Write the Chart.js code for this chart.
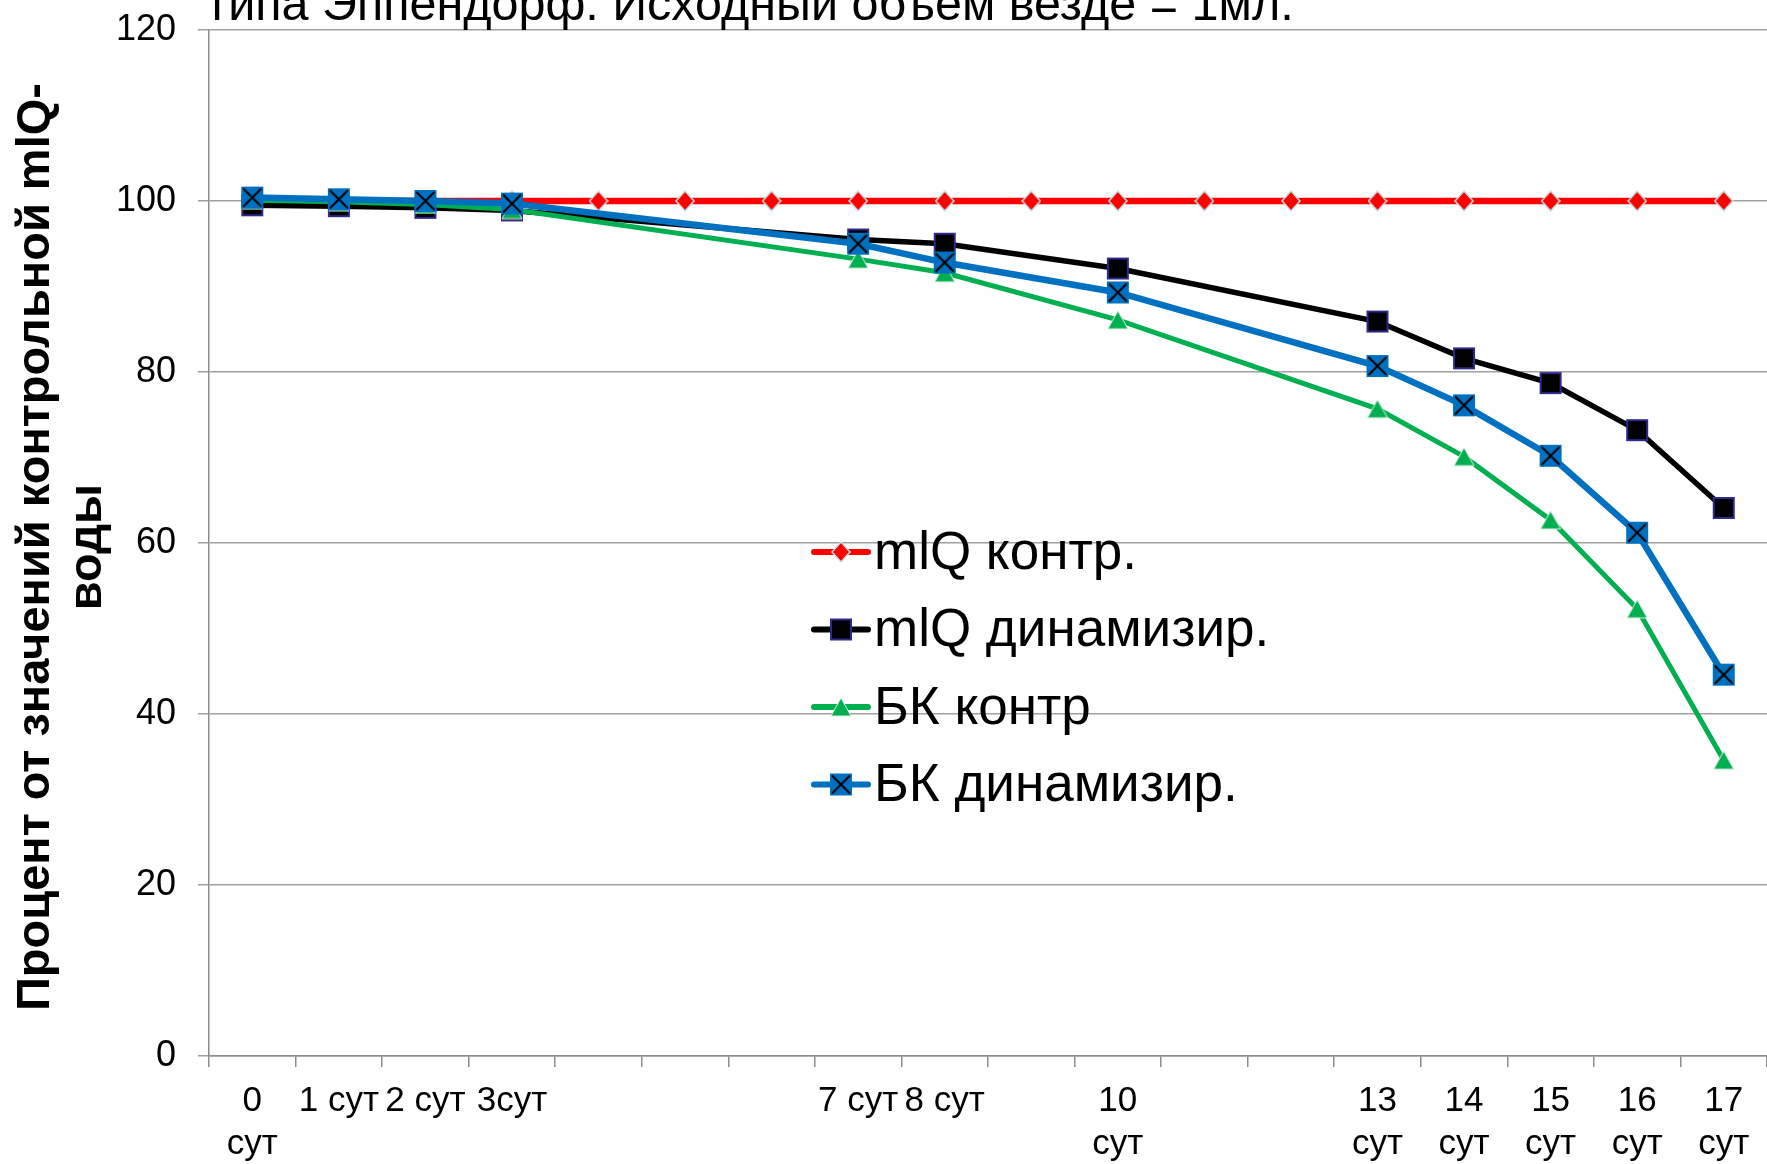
<!DOCTYPE html>
<html><head><meta charset="utf-8">
<script src="https://cdn.jsdelivr.net/npm/chart.js@4.4.1/dist/chart.umd.min.js"></script>
<style>html,body{margin:0;padding:0;background:#fff;overflow:hidden}canvas{display:block}</style>
</head><body>
<canvas id="c" width="1767" height="1164"></canvas>
<script>
const categories = [['0','сут'],'1 сут','2 сут','3сут','','','','7 сут','8 сут','',['10','сут'],'','',['13','сут'],['14','сут'],['15','сут'],['16','сут'],['17','сут']];
const mlqControl = [100,100,100,100,100,100,100,100,100,100,100,100,100,100,100,100,100,100];
const mlqDynamized = [99.5,99.4,99.2,98.9,null,null,null,95.5,95.0,null,92.1,null,null,85.9,81.6,78.7,73.2,64.1];
const bkControl = [100.1,99.9,99.6,99.0,null,null,null,93.2,91.6,null,86.1,null,null,75.7,70.1,62.7,52.3,34.6];
const bkDynamized = [100.4,100.2,100.0,99.7,null,null,null,95.0,92.8,null,89.3,null,null,80.7,76.1,70.2,61.2,44.6];
const seriesNames = ['mlQ контр.','mlQ динамизир.','БК контр','БК динамизир.'];
const yTicks = [0,20,40,60,80,100,120];
const titleText = 'типа Эппендорф. Исходный объем везде = 1мл.';
const yTitleLines = ['Процент от значений контрольной mlQ-','воды'];

const FONT = 'Arial, "Liberation Sans", sans-serif';

function mk(w,h,draw){const c=document.createElement('canvas');c.width=w;c.height=h;draw(c.getContext('2d'),w,h);return c;}
const mDiamond = mk(20,22,(g)=>{g.beginPath();g.moveTo(10,1);g.lineTo(19,11);g.lineTo(10,21);g.lineTo(1,11);g.closePath();g.fillStyle='#ff0000';g.fill();g.lineWidth=1.5;g.strokeStyle='#bfe4ea';g.stroke();});
const mSquare = mk(24,24,(g)=>{g.fillStyle='#000';g.fillRect(2,2,20,20);g.lineWidth=2;g.strokeStyle='#2e2a8c';g.strokeRect(2,2,20,20);});
const mTri = mk(22,20,(g)=>{g.beginPath();g.moveTo(11,1);g.lineTo(21,19);g.lineTo(1,19);g.closePath();g.fillStyle='#00b050';g.fill();g.lineWidth=1;g.strokeStyle='#d8f0e0';g.stroke();});
const mX = mk(24,24,(g)=>{g.fillStyle='#0070c0';g.fillRect(1,1,22,22);g.strokeStyle='#000';g.lineWidth=2;g.beginPath();g.moveTo(3,3);g.lineTo(21,21);g.moveTo(21,3);g.lineTo(3,21);g.stroke();});

const deco = {
  id:'deco',
  afterDraw(chart){
    const ctx=chart.ctx, a=chart.chartArea;
    ctx.save();
    ctx.fillStyle='#000';
    ctx.font='48.5px '+FONT; ctx.textAlign='left'; ctx.textBaseline='alphabetic';
    ctx.fillText(titleText,206,20);
    ctx.font='bold 47px '+FONT; ctx.textAlign='center'; ctx.textBaseline='middle';
    const cy=(a.top+a.bottom)/2+4;
    yTitleLines.forEach((t,i)=>{ctx.save();ctx.translate(36+i*52,cy);ctx.rotate(-Math.PI/2);ctx.fillText(t,0,0);ctx.restore();});
    chart.data.datasets.forEach((ds,i)=>{
      const y=552+i*77.5;
      ctx.strokeStyle=ds.borderColor; ctx.lineWidth=6; ctx.lineCap='round';
      ctx.beginPath(); ctx.moveTo(814,y); ctx.lineTo(868,y); ctx.stroke();
      const img=ds.pointStyle; ctx.drawImage(img,841-img.width/2,y-img.height/2);
      ctx.fillStyle='#000'; ctx.font='53px '+FONT; ctx.textAlign='left'; ctx.textBaseline='middle';
      ctx.fillText(ds.label,874,y+2);
    });
    ctx.restore();
  }
};

new Chart(document.getElementById('c'),{
  type:'line',
  data:{labels:categories,datasets:[
    {label:seriesNames[0],data:mlqControl,borderColor:'#ff0000',borderWidth:6.5,pointStyle:mDiamond,order:4,spanGaps:true,tension:0},
    {label:seriesNames[1],data:mlqDynamized,borderColor:'#000000',borderWidth:5.5,pointStyle:mSquare,order:3,spanGaps:true,tension:0},
    {label:seriesNames[2],data:bkControl,borderColor:'#00b050',borderWidth:5,pointStyle:mTri,order:2,spanGaps:true,tension:0},
    {label:seriesNames[3],data:bkDynamized,borderColor:'#0070c0',borderWidth:6.5,pointStyle:mX,order:1,spanGaps:true,tension:0}
  ]},
  options:{
    responsive:false, animation:false, devicePixelRatio:1,
    layout:{autoPadding:false,padding:{top:30,left:0,right:0,bottom:0}},
    plugins:{legend:{display:false},title:{display:false},tooltip:{enabled:false}},
    scales:{
      x:{offset:true,
        grid:{offset:true,drawOnChartArea:false,drawTicks:true,tickLength:11,color:'#8c8c8c',lineWidth:1.5},
        border:{color:'#8c8c8c',width:1.5},
        ticks:{autoSkip:false,maxRotation:0,minRotation:0,padding:12,color:'#000',font:{family:FONT,size:35,lineHeight:1.25}},
        afterFit(s){s.height=108;s.paddingLeft=0;s.paddingRight=0;}
      },
      y:{min:0,max:120,
        afterBuildTicks(s){s.ticks=yTicks.map(v=>({value:v}));},
        grid:{color:'#a0a0a0',lineWidth:1.5,tickLength:11},
        border:{color:'#8c8c8c',width:1.5},
        ticks:{padding:22,color:'#000',font:{family:FONT,size:36}},
        afterFit(s){s.width=209;s.paddingTop=0;s.paddingBottom=0;}
      }
    }
  },
  plugins:[deco]
});
</script>
</body></html>
